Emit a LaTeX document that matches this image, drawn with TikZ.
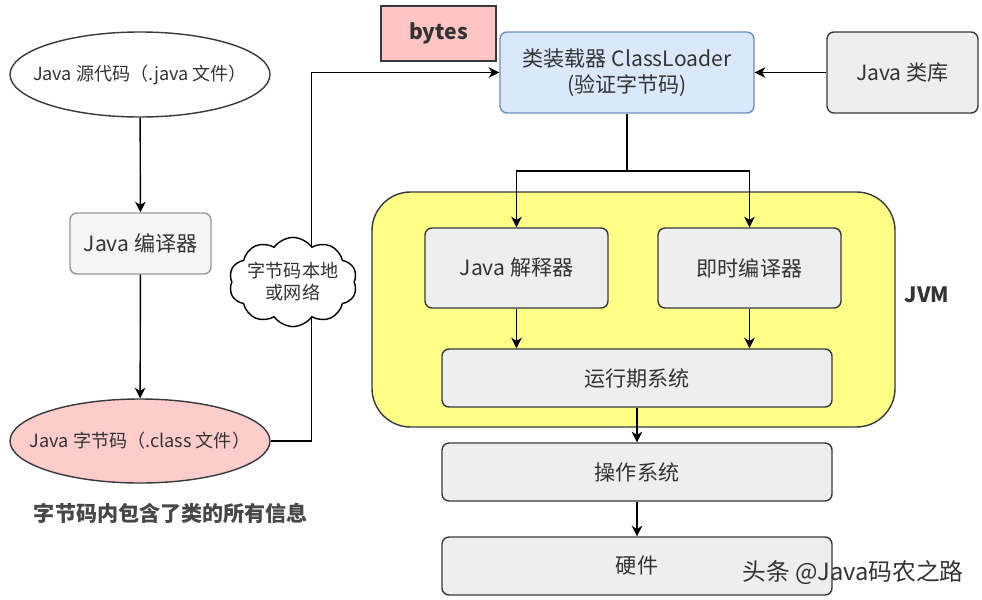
\documentclass[tikz,border=0pt]{standalone}
\usepackage{fontspec}
\setmainfont{Noto Sans CJK SC}
\usepackage{tikz}
\usetikzlibrary{shapes.geometric}
\usetikzlibrary{shapes.symbols}
\usetikzlibrary{arrows.meta}

\definecolor{txtgray}{HTML}{333333}
\definecolor{edgegray}{HTML}{36393D}
\definecolor{pinkfill}{HTML}{FFCCCC}
\definecolor{bytesfill}{HTML}{FFC4C4}
\definecolor{bluefill}{HTML}{DAE8FC}
\definecolor{blueedge}{HTML}{6C8EBF}
\definecolor{grayfill}{HTML}{EEEEEE}
\definecolor{lightfill}{HTML}{F5F5F5}
\definecolor{jvmfill}{HTML}{FFFF88}

\tikzset{
  line/.style={draw=black, line width=0.8pt},
  arr/.style={line, -{Stealth[length=6pt, width=6pt, inset=1.8pt]}},
  filebubble/.style={ellipse, draw=edgegray, line width=0.8pt, inner sep=0pt,
    minimum width=5.2cm, minimum height=1.7cm},
  filetext/.style={text=txtgray, inner sep=0pt, font=\fontsize{10.3}{13}\selectfont},
  graybox/.style={rectangle, rounded corners=4pt, draw=edgegray, fill=grayfill, line width=0.8pt,
    inner sep=0pt, text=txtgray, align=center, font=\fontsize{12}{15}\selectfont},
}

\begin{document}
\begin{tikzpicture}
        \useasboundingbox (0,0) rectangle (19.64,-11.98);
        % JVM frame
        \node[rectangle, rounded corners=22pt, draw=edgegray, fill=jvmfill, line width=0.8pt,
              minimum width=10.46cm, minimum height=4.7cm] (jvm) at (12.67,-6.19) {};
        \node[text=txtgray, font=\fontsize{12}{14}\selectfont\bfseries] (jvmlabel) at (18.54,-5.9) {JVM};

        \node[filebubble, fill=white, label={[filetext]center:Java 源代码（.java 文件）}] (src) at (2.8,-1.49) {};
        \node[graybox, fill=lightfill, draw=gray!80, minimum width=2.82cm, minimum height=1.22cm] (javac) at (2.81,-4.87) {Java 编译器};
        \node[filebubble, fill=pinkfill, minimum height=1.68cm, label={[filetext]center:Java 字节码（.class 文件）}] (bytecode) at (2.8,-8.82) {};
        \node[text=txtgray!90, font=\fontsize{12}{14}\selectfont\bfseries] (note) at (3.42,-10.26) {字节码内包含了类的所有信息};

        \node[rectangle, draw=edgegray, fill=bytesfill, line width=0.8pt, minimum width=2.3cm, minimum height=1.1cm,
              text=txtgray, font=\fontsize{12}{14}\selectfont\bfseries] (bytes) at (8.77,-0.67) {bytes};
        \node[graybox, draw=blueedge, fill=bluefill, minimum width=5.08cm, minimum height=1.62cm] (loader) at (12.54,-1.45) {类装载器 ClassLoader\\(验证字节码)};
        \node[graybox, minimum width=3.02cm, minimum height=1.62cm] (lib) at (18.05,-1.45) {Java 类库};

        \node[graybox, minimum width=3.66cm, minimum height=1.6cm] (interp) at (10.33,-5.36) {Java 解释器};
        \node[graybox, minimum width=3.66cm, minimum height=1.6cm] (jit) at (14.99,-5.36) {即时编译器};
        \node[graybox, minimum width=7.8cm, minimum height=1.16cm] (runtime) at (12.74,-7.56) {运行期系统};
        \node[graybox, minimum width=7.8cm, minimum height=1.16cm] (os) at (12.74,-9.44) {操作系统};
        \node[graybox, minimum width=7.8cm, minimum height=1.16cm] (hw) at (12.74,-11.32) {硬件};

        \coordinate (turn) at (6.23,-5.64);
        \coordinate (split) at (12.54,-3.42);

        \draw[arr] (src) -- (javac);
        \draw[arr] (javac) -- (bytecode);
        \draw[arr] (bytecode.east) -| (turn) |- (loader.west);
        \draw[arr] (lib.west) -- (loader.east);
        \draw[line] (loader.south) -- (split);
        \draw[arr] (split) -| (interp.north);
        \draw[arr] (split) -| (jit.north);
        \draw[arr] (interp.south) -- (interp.south |- runtime.north);
        \draw[arr] (jit.south) -- (jit.south |- runtime.north);
        \draw[arr] (runtime) -- (os);
        \draw[arr] (os) -- (hw);

        % cloud sits on top of the bytecode line
        \node[cloud, cloud puffs=10, cloud puff arc=110, aspect=1.6, draw=black, fill=white, line width=0.8pt,
              minimum width=2.56cm, minimum height=1.56cm, inner sep=-2pt, align=center,
              text=txtgray, font=\fontsize{10.3}{12.5}\selectfont] (net) at (5.86,-5.64) {字节码本地\\或网络};

        \node[text=txtgray, font=\fontsize{13.5}{15}\selectfont] (mark) at (17.06,-11.46) {头条 @Java码农之路};
        %\draw[dashed] (0,0) rectangle (19.64,-11.98);
\end{tikzpicture}
\end{document}
